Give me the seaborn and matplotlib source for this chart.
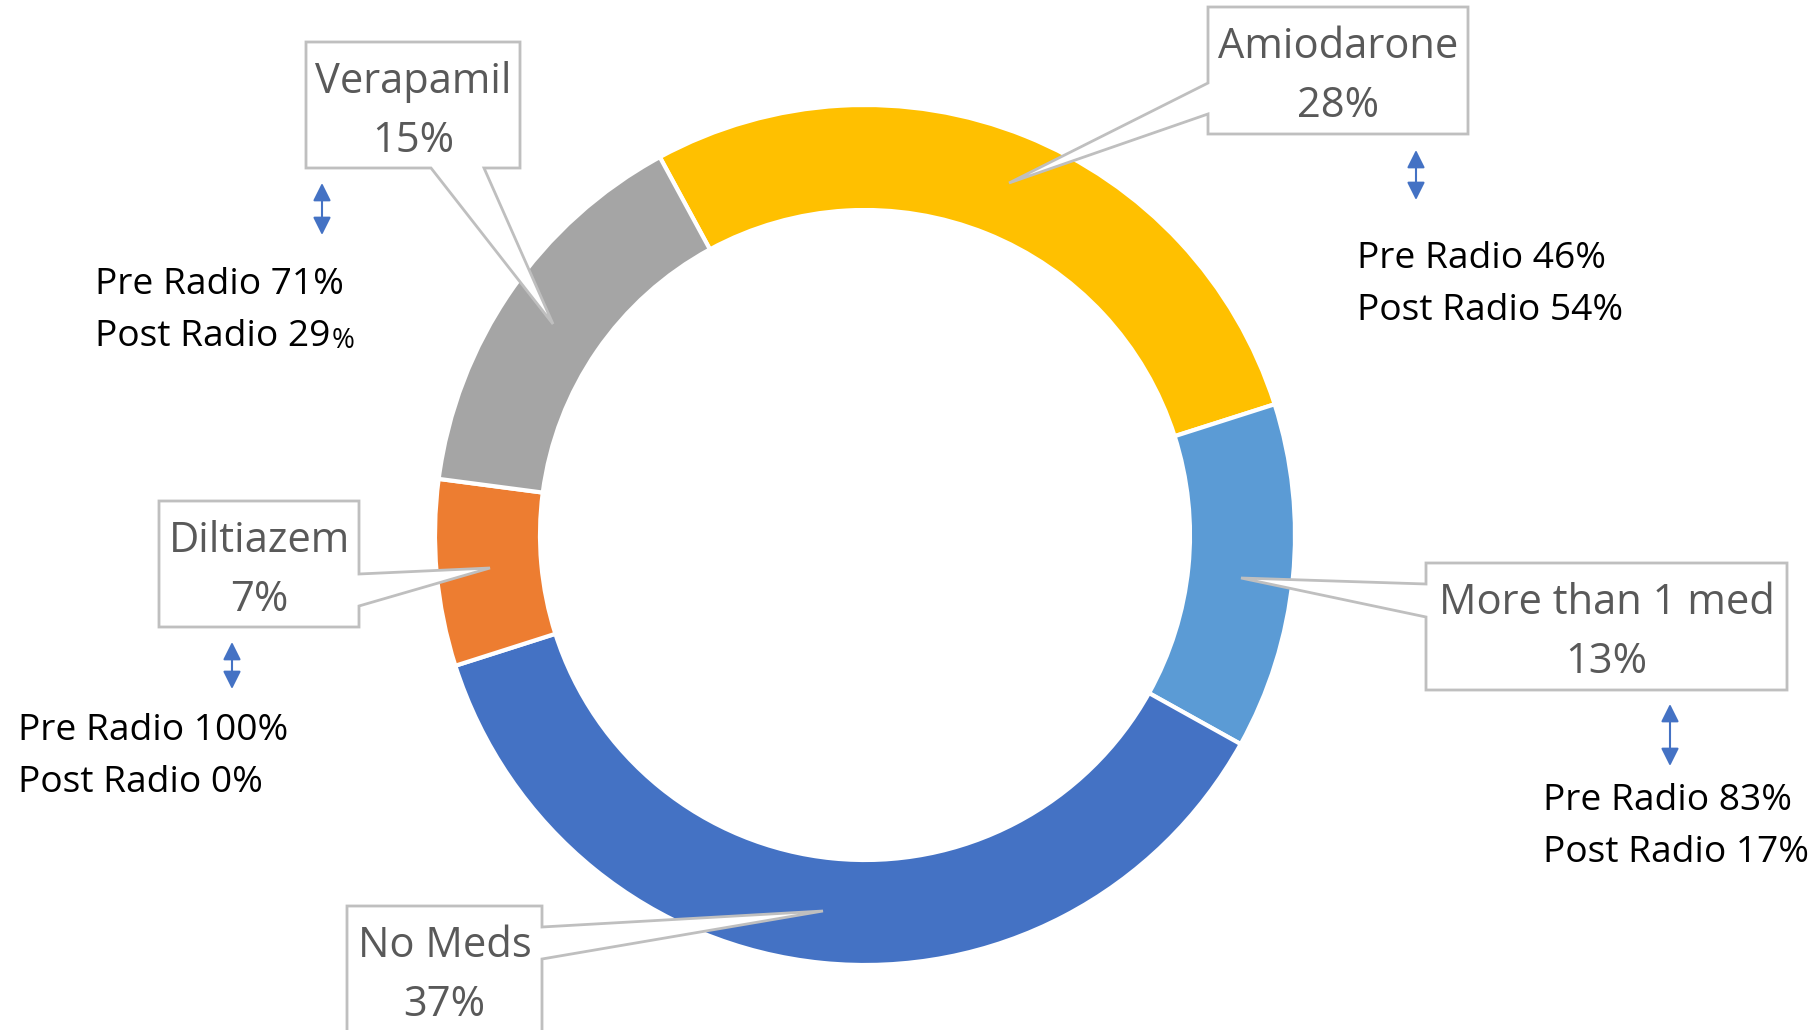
import matplotlib
matplotlib.use("Agg")
import matplotlib.pyplot as plt
import seaborn as sns
from matplotlib.patches import Polygon

# Share of patients by medication, clockwise from the top-left
medications = ["Amiodarone", "More than 1 med", "No Meds", "Diltiazem", "Verapamil"]
shares = [28, 13, 37, 7, 15]
slice_colors = ["#FFC000", "#5B9BD5", "#4472C4", "#ED7D31", "#A5A5A5"]

# Pre / post radio split for the medicated groups
split_meds = ["Amiodarone", "More than 1 med", "Diltiazem", "Verapamil"]
pre_radio = [46, 83, 100, 71]
post_radio = [54, 17, 0, 29]

sns.set_theme(style="white")
plt.rcParams["font.family"] = ["Open Sans", "DejaVu Sans"]

W, H = 1819, 1030
fig = plt.figure(figsize=(W / 100, H / 100), dpi=100)
ax = fig.add_axes([0, 0, 1, 1])


def Y(y):
    """Convert a top-down pixel row to axis y."""
    return H - y


ax.pie(
    shares,
    colors=slice_colors,
    startangle=118.5,
    counterclock=False,
    radius=430,
    center=(865, Y(535)),
    wedgeprops=dict(width=105, edgecolor="white", linewidth=3),
)
ax.set_xlim(0, W)
ax.set_ylim(0, H)
ax.set_aspect("equal")
ax.axis("off")

# Callout boxes: (left, top, right, bottom), side of pointer, pointer base, pointer tip
callouts = {
    "Amiodarone": ((1208, 7, 1468, 134), "left", (83, 114), (1009, 183)),
    "More than 1 med": ((1426, 563, 1787, 690), "left", (584, 617), (1241, 578)),
    "No Meds": ((347, 906, 542, 1045), "right", (927, 959), (823, 911)),
    "Diltiazem": ((159, 501, 359, 627), "right", (574, 606), (490, 568)),
    "Verapamil": ((306, 42, 520, 168), "bottom", (431, 484), (553, 324)),
}


def callout_outline(box, side, base, tip):
    l, t, r, b = box
    pts = [(l, t), (r, t)]
    if side == "right":
        pts += [(r, base[0]), tip, (r, base[1])]
    pts.append((r, b))
    if side == "bottom":
        pts += [(base[1], b), tip, (base[0], b)]
    pts.append((l, b))
    if side == "left":
        pts += [(l, base[1]), tip, (l, base[0])]
    return [(x, Y(y)) for x, y in pts]


grey_text = "#595959"
for name, share in zip(medications, shares):
    box, side, base, tip = callouts[name]
    poly = Polygon(callout_outline(box, side, base, tip), closed=True,
                   facecolor="white", edgecolor="#BFBFBF", linewidth=2,
                   joinstyle="miter", zorder=5)
    ax.add_patch(poly)
    l, t, r, b = box
    cx = (l + r) / 2
    ax.text(cx, Y(t + 40), name, ha="center", va="center",
            fontsize=30, color=grey_text, zorder=6)
    ax.text(cx, Y(t + 99), f"{share}%", ha="center", va="center",
            fontsize=30, color=grey_text, zorder=6)

# Double-headed arrows and pre/post radio notes
notes = {
    "Amiodarone": ((1416, 150, 200), (1357, 259)),
    "More than 1 med": ((1670, 704, 766), (1543, 801)),
    "Diltiazem": ((232, 642, 689), (18, 731)),
    "Verapamil": ((322, 183, 235), (95, 285)),
}
arrow_color = "#4472C4"
note_size = 26.7
line_gap = 52
small_pct = []
for name, pre, post in zip(split_meds, pre_radio, post_radio):
    (ax_x, y0, y1), (tx, ty) = notes[name]
    ax.annotate("", xy=(ax_x, Y(y1)), xytext=(ax_x, Y(y0)),
                arrowprops=dict(arrowstyle="<|-|>,head_length=0.6,head_width=0.3",
                                color=arrow_color, lw=1.5, mutation_scale=18,
                                shrinkA=0, shrinkB=0))
    ax.text(tx, Y(ty), f"Pre Radio {pre}%", ha="left", va="center",
            fontsize=note_size, color="black")
    if name == "Verapamil":
        t2 = ax.text(tx, Y(ty + line_gap), f"Post Radio {post}", ha="left",
                     va="center", fontsize=note_size, color="black")
        small_pct.append(t2)
    else:
        ax.text(tx, Y(ty + line_gap), f"Post Radio {post}%", ha="left",
                va="center", fontsize=note_size, color="black")

# The Verapamil note has a smaller percent sign
fig.canvas.draw()
inv = ax.transData.inverted()
for t2 in small_pct:
    bb = t2.get_window_extent()
    x_end, _ = inv.transform((bb.x1, bb.y0))
    _, y_mid = t2.get_position()
    ax.text(x_end + 1, y_mid - 4, "%", ha="left", va="center",
            fontsize=20, color="black")

fig.savefig("out.png", dpi=100, facecolor="white")
